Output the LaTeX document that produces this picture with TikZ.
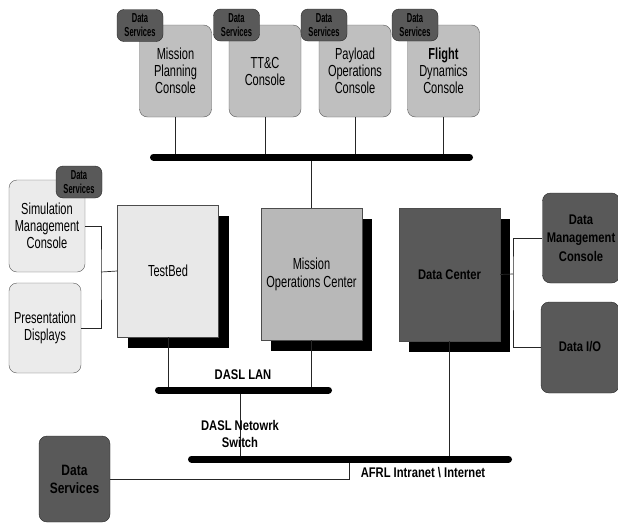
\documentclass[tikz,border=0pt]{standalone}
\usepackage{fontspec}
\setmainfont{Liberation Sans}
\newfontfamily\narrowfont{Liberation Sans}[FakeStretch=0.69]
\newfontfamily\labelfont{Liberation Sans}[FakeStretch=0.8]
\newfontfamily\tightfont{Liberation Sans}[FakeStretch=0.58]
\usetikzlibrary{shadows}

\begin{document}
\begin{tikzpicture}[
    x=1pt,
    y=-1pt,
    console/.style={draw=black!65, fill=black!25, rounded corners=8pt,
        minimum width=72pt, minimum height=92pt, inner sep=1pt, align=center,
        font=\narrowfont\fontsize{16}{17}\selectfont},
    lightbox/.style={console, fill=black!8},
    badge/.style={draw=black!85, fill=black!65, rounded corners=7pt,
        minimum width=46pt, minimum height=32pt, inner sep=0pt, align=center,
        font=\tightfont\bfseries\fontsize{13}{14}\selectfont},
    darkbox/.style={draw=black!85, fill=black!65, rounded corners=8pt,
        inner sep=1pt, align=center,
        font=\labelfont\bfseries\fontsize{14}{18.5}\selectfont},
    site/.style={draw=black!70, minimum width=101pt, minimum height=132pt,
        inner sep=1pt, align=center,
        drop shadow={shadow xshift=10pt, shadow yshift=-11pt, fill=black, opacity=1},
        font=\narrowfont\fontsize{16}{18}\selectfont},
    link/.style={draw=black!85, line width=0.7pt},
    bus/.style={draw, line width=7pt, line cap=round},
    lbl/.style={align=center, font=\labelfont\bfseries\fontsize{14}{17}\selectfont}
]
\useasboundingbox (0,0) rectangle (618,525);

% --- Networks ---
\coordinate (topL) at (153.5,157);
\coordinate (topR) at (469.5,157);
\coordinate (lanL) at (158.5,390);
\coordinate (lanR) at (328.5,390);
\coordinate (netL) at (191.5,459);
\coordinate (netR) at (508.5,459);

% --- Consoles on the top network ---
\node[console] (mpc) at (175.5,71) {Mission\\Planning\\Console};
\node[console] (ttc) at (265,71) {TT\&C\\Console};
\node[console] (poc) at (355,71) {Payload\\Operations\\Console};
\node[console] (fdc) at (443.5,71) {\textbf{Flight}\\Dynamics\\Console};

\node[badge] (mpcds) at (140,25.5) {Data\\Services};
\node[badge] (ttcds) at (236.5,25) {Data\\Services};
\node[badge] (pocds) at (324,25) {Data\\Services};
\node[badge] (fdcds) at (415,25) {Data\\Services};

% --- TestBed side ---
\node[lightbox, minimum width=76pt] (smc) at (47,226) {Simulation\\Management\\Console};
\node[badge] (smcds) at (79,182) {Data\\Services};
\node[lightbox, minimum height=90pt] (pd) at (45,328) {Presentation\\Displays};

\node[site, fill=black!9] (tb) at (168,271) {TestBed};
\node[site, fill=black!28] (moc) at (311.5,274) {Mission\\Operations Center};
\node[site, fill=black!65, minimum height=133pt,
    font=\labelfont\bfseries\fontsize{14}{17}\selectfont] (dc) at (449.5,274.5) {Data Center};

% --- Data Center side ---
\node[darkbox, minimum width=77pt, minimum height=90pt] (dmc) at (581,238) {Data\\Management\\Console};
\node[darkbox, minimum width=78pt, minimum height=91pt] (dio) at (580,347.5) {\raisebox{3pt}{Data I/O}};

\node[darkbox, minimum width=71pt, minimum height=86pt,
    font=\labelfont\bfseries\fontsize{15}{18}\selectfont] (ds) at (74.5,479) {Data\\Services};

% --- Links ---
\coordinate (tbjoin) at (101,272);
\coordinate (dcjoin) at (513,274);
\coordinate (dsdrop) at (349,459);

\draw[link] (mpc.south) -- (mpc.south |- topL);
\draw[link] (ttc.south) -- (ttc.south |- topL);
\draw[link] (poc.south) -- (poc.south |- topL);
\draw[link] (fdc.south) -- (fdc.south |- topL);
\draw[link] (moc.north |- topL) -- (moc.north);

\draw[link] (smc.east) -| (tbjoin) |- (pd.east);
\draw[link] (tbjoin) -- (tb.west);
\draw[link] (tb.south) -- (tb.south |- lanL);
\draw[link] (moc.south) -- (moc.south |- lanL);

\draw[link] (dc.east) -- (dcjoin);
\draw[link] (dmc.west) -| (dcjoin) |- (dio.west);
\draw[link] (dc.south) -- (dc.south |- netL);

\draw[link] (240,390) -- (240,459);
\draw[link] (ds.east) -| (dsdrop);

\draw[bus] (topL) -- (topR);
\draw[bus] (lanL) -- (lanR);
\draw[bus] (netL) -- (netR);

% --- Network labels ---
\node[lbl] (lan) at (243,375) {DASL LAN};
\node[lbl] (switch) at (240,434) {DASL Netowrk\\Switch};
\node[lbl] (afrl) at (423,473) {AFRL Intranet \textbackslash{} Internet};
\end{tikzpicture}
\end{document}
